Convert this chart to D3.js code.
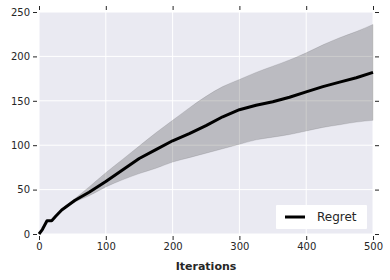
<!DOCTYPE html>
<html>
<head>
<meta charset="utf-8">
<script src="https://cdn.jsdelivr.net/npm/d3@7"></script>
<style>
  body { margin: 0; background: #fff; }
  text { font-family: "DejaVu Sans", sans-serif; fill: #262626; }
</style>
</head>
<body>
<div id="chart"></div>
<script>
/* DATA */
const iterations = [0, 5, 12, 19, 25, 34, 54, 75, 100, 125, 150, 175, 200, 225, 250, 275, 300, 325, 350, 375, 400, 425, 450, 475, 500];
const regretMean = [0, 5, 15, 15, 20, 27, 38, 47, 59, 72, 85, 95, 105, 113, 122, 132, 140, 145, 149, 154, 160, 166, 171, 176, 182];
const regretUpper = [0, 5, 15, 15, 21, 28, 40, 53, 69, 84, 99, 114, 128, 142, 155, 166, 174, 182, 189, 196, 204, 213, 221, 228, 236];
const regretLower = [0, 5, 15, 15, 19, 26, 36, 43, 53, 61, 68, 74, 81, 86, 91, 96, 101, 106, 109, 112, 116, 120, 123, 126, 128];
const xTicks = [0, 100, 200, 300, 400, 500];
const yTicks = [0, 50, 100, 150, 200, 250];

const width = 390, height = 280,
  margin = { top: 12, right: 17, bottom: 46, left: 39 };

const data = iterations.map((it, i) => ({
  it, mean: regretMean[i], hi: regretUpper[i], lo: regretLower[i]
}));

const svg = d3.select("#chart").append("svg")
  .attr("width", width)
  .attr("height", height);

const x = d3.scaleLinear().domain([0, 500]).range([margin.left, width - margin.right]);
const y = d3.scaleLinear().domain([0, 250]).range([height - margin.bottom, margin.top]);

// background
svg.append("rect")
  .attr("x", x(0)).attr("y", y(250))
  .attr("width", x(500) - x(0)).attr("height", y(0) - y(250))
  .attr("fill", "#EAEAF2");

// grid
svg.append("g").selectAll("line").data(xTicks).join("line")
  .attr("x1", d => x(d)).attr("x2", d => x(d))
  .attr("y1", y(0)).attr("y2", y(250))
  .attr("stroke", "#fff").attr("stroke-width", 1);
svg.append("g").selectAll("line").data(yTicks).join("line")
  .attr("y1", d => y(d)).attr("y2", d => y(d))
  .attr("x1", x(0)).attr("x2", x(500))
  .attr("stroke", "#fff").attr("stroke-width", 1);

// band
const area = d3.area()
  .x(d => x(d.it))
  .y0(d => y(d.lo))
  .y1(d => y(d.hi))
  .curve(d3.curveMonotoneX);
svg.append("path")
  .datum(data)
  .attr("d", area)
  .attr("fill", "#000")
  .attr("fill-opacity", 0.2)
  .attr("stroke", "#000")
  .attr("stroke-opacity", 0.1)
  .attr("stroke-width", 1);

// mean line
const line = d3.line().x(d => x(d.it)).y(d => y(d.mean));
svg.append("path")
  .datum(data)
  .attr("d", line)
  .attr("fill", "none")
  .attr("stroke", "#000")
  .attr("stroke-width", 3)
  .attr("stroke-linejoin", "round");

// axes, ticks outside with small offset
const tickColor = "#262626";
const xAxisB = d3.axisBottom(x).tickValues(xTicks).tickSize(4).tickPadding(3);
const xAxisT = d3.axisTop(x).tickValues(xTicks).tickSize(4).tickFormat("");
const yAxisL = d3.axisLeft(y).tickValues(yTicks).tickSize(4).tickPadding(3);
const yAxisR = d3.axisRight(y).tickValues(yTicks).tickSize(4).tickFormat("");

function style(g) {
  g.select(".domain").remove();
  g.selectAll("line").attr("stroke", tickColor);
  g.selectAll("text").attr("font-size", 10).attr("fill", "#262626")
    .attr("font-family", "DejaVu Sans, sans-serif");
}

svg.append("g").attr("transform", `translate(0,${y(0) + 2})`).call(xAxisB).call(style);
svg.append("g").attr("transform", `translate(0,${y(250) - 2})`).call(xAxisT).call(style);
svg.append("g").attr("transform", `translate(${x(0) - 2},0)`).call(yAxisL).call(style);
svg.append("g").attr("transform", `translate(${x(500) + 2},0)`).call(yAxisR).call(style);

// x label
svg.append("text")
  .attr("x", (x(0) + x(500)) / 2)
  .attr("y", 270)
  .attr("text-anchor", "middle")
  .attr("font-size", 11)
  .attr("font-weight", "bold")
  .text("Iterations");

// legend
const lg = svg.append("g").attr("transform", `translate(${x(500) - 97},${y(0) - 29})`);
lg.append("rect")
  .attr("width", 91).attr("height", 24)
  .attr("fill", "#fff").attr("rx", 1);
lg.append("line")
  .attr("x1", 9).attr("x2", 29).attr("y1", 12).attr("y2", 12)
  .attr("stroke", "#000").attr("stroke-width", 3);
lg.append("text")
  .attr("x", 41).attr("y", 16)
  .attr("font-size", 12)
  .text("Regret");
</script>
</body>
</html>
